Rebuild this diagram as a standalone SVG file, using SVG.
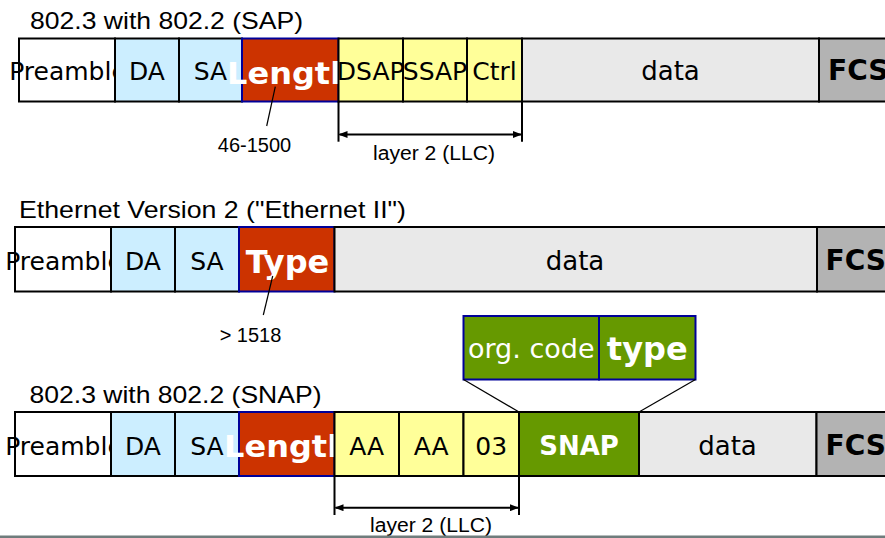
<svg xmlns="http://www.w3.org/2000/svg" width="885" height="538" viewBox="0 0 885 538">
<style>
  .c{stroke:#000;stroke-width:2}
  .pre{fill:#fff}
  .addr{fill:#cceeff}
  .len{fill:#cc3300;stroke:#000099;stroke-width:2}
  .llc{fill:#ffff99}
  .dat{fill:#e9e9e9}
  .fcs{fill:#b3b3b3}
  .snap{fill:#669900}
  .sub{fill:#669900;stroke:#000099;stroke-width:2}
  .t{font-family:"DejaVu Sans",sans-serif;font-size:25px;fill:#000;text-anchor:middle}
  .d{font-size:26px}
  .b{font-family:"DejaVu Sans",sans-serif;font-weight:bold;fill:#fff}
  .fc{font-family:"DejaVu Sans",sans-serif;font-weight:bold;font-size:28px;fill:#000}
  .ttl{font-family:"Liberation Sans",Arial,sans-serif;font-size:24px;fill:#000}
  .lbl{font-family:"Liberation Sans",Arial,sans-serif;font-size:20px;fill:#000;text-anchor:middle}
  .ln{stroke:#000;stroke-width:1.2;fill:none}
  .br{stroke:#000;stroke-width:2;fill:none}
</style>
<defs>
  <marker id="ah" markerWidth="9" markerHeight="7" refX="8" refY="3.5" orient="auto-start-reverse" markerUnits="userSpaceOnUse">
    <path d="M0,0 L9,3.5 L0,7 z" fill="#000"/>
  </marker>
</defs>
<rect x="0" y="0" width="885" height="538" fill="#fff"/>

<!-- Row 1: 802.3 with 802.2 (SAP) -->
<text class="ttl" x="30" y="29" textLength="273" lengthAdjust="spacingAndGlyphs">802.3 with 802.2 (SAP)</text>
<g id="r1-preamble"><rect class="c pre" x="19" y="38.5" width="96" height="63"/><text class="t" x="68" y="80">Preamble</text></g>
<g id="r1-da"><rect class="c addr" x="115" y="38.5" width="64" height="63"/><text class="t" x="147" y="80">DA</text></g>
<g id="r1-sa"><rect class="c addr" x="179" y="38.5" width="63" height="63"/><text class="t" x="210.5" y="80">SA</text></g>
<g id="r1-length"><rect class="len" x="242" y="38.5" width="96.5" height="63"/><text class="b" x="227" y="83.5" font-size="30" textLength="126" lengthAdjust="spacingAndGlyphs">Length</text></g>
<g id="r1-dsap"><rect class="c llc" x="338.5" y="38.5" width="64.5" height="63"/><text class="t" x="370.75" y="80">DSAP</text></g>
<g id="r1-ssap"><rect class="c llc" x="403" y="38.5" width="64" height="63"/><text class="t" x="435" y="80">SSAP</text></g>
<g id="r1-ctrl"><rect class="c llc" x="467" y="38.5" width="55" height="63"/><text class="t" x="494.5" y="80">Ctrl</text></g>
<g id="r1-data"><rect class="c dat" x="522" y="38.5" width="297" height="63"/><text class="t d" x="670.5" y="80">data</text></g>
<g id="r1-fcs"><rect class="c fcs" x="819" y="38.5" width="90" height="63"/><text class="fc" x="828" y="80">FCS</text></g>
<text class="lbl" x="254.5" y="151.5" font-size="21">46-1500</text>
<text class="lbl" x="434" y="159.5" textLength="122" lengthAdjust="spacingAndGlyphs">layer 2 (LLC)</text>

<!-- Row 2: Ethernet II -->
<text class="ttl" x="19" y="218.3" textLength="387" lengthAdjust="spacingAndGlyphs">Ethernet Version 2 ("Ethernet II")</text>
<g id="r2-preamble"><rect class="c pre" x="15" y="227" width="96" height="64.5"/><text class="t" x="64" y="270">Preamble</text></g>
<g id="r2-da"><rect class="c addr" x="111" y="227" width="64" height="64.5"/><text class="t" x="143" y="270">DA</text></g>
<g id="r2-sa"><rect class="c addr" x="175" y="227" width="64" height="64.5"/><text class="t" x="207" y="270">SA</text></g>
<g id="r2-type"><rect class="len" x="239" y="227" width="95.5" height="64.5"/><text class="b" x="287.5" y="272.5" font-size="32" text-anchor="middle">Type</text></g>
<g id="r2-data"><rect class="c dat" x="334.5" y="227" width="482.5" height="64.5"/><text class="t d" x="575" y="270">data</text></g>
<g id="r2-fcs"><rect class="c fcs" x="817" y="227" width="90" height="64.5"/><text class="fc" x="825.5" y="270">FCS</text></g>
<text class="lbl" x="250.5" y="341.7" font-size="21">&gt; 1518</text>

<!-- SNAP expansion -->
<g id="snap-orgcode"><rect class="sub" x="463.5" y="316" width="135.5" height="63.5"/><text class="t" x="531.25" y="358" font-size="27" style="fill:#fff;font-size:27px">org. code</text></g>
<g id="snap-type"><rect class="sub" x="599" y="316" width="96.5" height="63.5"/><text class="b" x="647.25" y="359.5" font-size="32" text-anchor="middle">type</text></g>

<!-- Row 3: 802.3 with 802.2 (SNAP) -->
<text class="ttl" x="29.5" y="402.5" textLength="292" lengthAdjust="spacingAndGlyphs">802.3 with 802.2 (SNAP)</text>
<g id="r3-preamble"><rect class="c pre" x="15" y="412" width="96" height="64"/><text class="t" x="64" y="455">Preamble</text></g>
<g id="r3-da"><rect class="c addr" x="111" y="412" width="64" height="64"/><text class="t" x="143" y="455">DA</text></g>
<g id="r3-sa"><rect class="c addr" x="175" y="412" width="64" height="64"/><text class="t" x="207" y="455">SA</text></g>
<g id="r3-length"><rect class="len" x="239" y="412" width="95.5" height="64"/><text class="b" x="224" y="457" font-size="30" textLength="126" lengthAdjust="spacingAndGlyphs">Length</text></g>
<g id="r3-aa1"><rect class="c llc" x="334.5" y="412" width="64.5" height="64"/><text class="t" x="366.75" y="455">AA</text></g>
<g id="r3-aa2"><rect class="c llc" x="399" y="412" width="64.5" height="64"/><text class="t" x="431.25" y="455">AA</text></g>
<g id="r3-03"><rect class="c llc" x="463.5" y="412" width="55.5" height="64"/><text class="t" x="491.25" y="455">03</text></g>
<g id="r3-snap"><rect class="c snap" x="519" y="412" width="120" height="64"/><text class="b" x="579" y="455" font-size="26" text-anchor="middle">SNAP</text></g>
<g id="r3-data"><rect class="c dat" x="639" y="412" width="177.5" height="64"/><text class="t d" x="727.5" y="455">data</text></g>
<g id="r3-fcs"><rect class="c fcs" x="816.5" y="412" width="90" height="64"/><text class="fc" x="825.5" y="455">FCS</text></g>
<text class="lbl" x="431" y="532" textLength="122" lengthAdjust="spacingAndGlyphs">layer 2 (LLC)</text>

<!-- Connectors -->
<g id="connectors">
  <line class="ln" x1="275.3" y1="86.7" x2="266.7" y2="126"/>
  <line class="ln" x1="272.7" y1="276" x2="263.3" y2="315"/>
  <line class="ln" x1="463.5" y1="379.5" x2="519" y2="412"/>
  <line class="ln" x1="695.5" y1="379.5" x2="639" y2="412"/>
  <line class="br" x1="338.5" y1="101.5" x2="338.5" y2="141.7"/>
  <line class="br" x1="522" y1="101.5" x2="522" y2="141.7"/>
  <line class="br" x1="339.5" y1="134.5" x2="521" y2="134.5" marker-start="url(#ah)" marker-end="url(#ah)"/>
  <line class="br" x1="334.5" y1="476" x2="334.5" y2="515"/>
  <line class="br" x1="519" y1="476" x2="519" y2="515"/>
  <line class="br" x1="335.5" y1="507.7" x2="518" y2="507.7" marker-start="url(#ah)" marker-end="url(#ah)"/>
</g>
<rect x="0" y="535.5" width="885" height="2.5" fill="#6f7c7c"/>
</svg>
